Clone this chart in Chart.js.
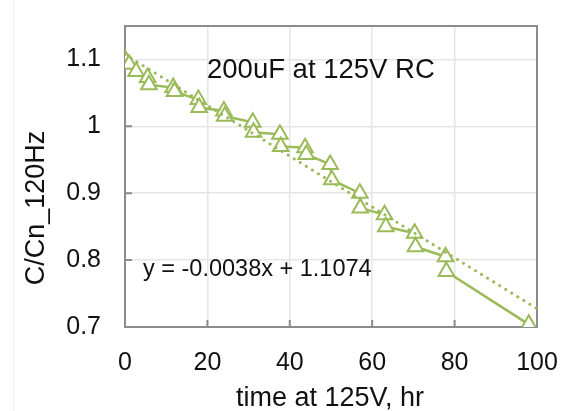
<!DOCTYPE html>
<html>
<head>
<meta charset="utf-8">
<script src="https://cdn.jsdelivr.net/npm/chart.js@4/dist/chart.umd.min.js"></script>
<style>
  html, body { margin: 0; padding: 0; background: #fff; }
  #wrap { width: 567px; height: 411px; }
</style>
</head>
<body>
<div id="wrap"><canvas id="chart" width="567" height="411"></canvas></div>
<script>
// measured capacitance ratio vs hours at 125V (pairs per check point)
const hours = [0, 1, 2.7, 5.5, 5.8, 11.7, 12, 17.8, 18, 24, 24.2, 31, 31.2, 37.6, 37.8,
  43.7, 44, 49.8, 50.2, 57, 57.1, 63, 63.3, 70.3, 70.5, 77.8, 78, 98];
const capRatio = [1.100, 1.093, 1.082, 1.073, 1.062, 1.058, 1.052, 1.040, 1.028, 1.023, 1.015,
  1.006, 0.991, 0.988, 0.970, 0.968, 0.958, 0.943, 0.920, 0.900, 0.878, 0.868, 0.850,
  0.840, 0.820, 0.805, 0.783, 0.704];

// linear trendline endpoints (from the printed equation)
const trendHours = [0, 100];
const trendValues = [1.1074, 0.7274];

const xTicks = [0, 20, 40, 60, 80, 100];
const yTicks = [0.7, 0.8, 0.9, 1.0, 1.1];

const chartNote = "200uF at 125V RC";
const trendNote = "y = -0.0038x + 1.1074";
const xTitle = "time at 125V, hr";
const yTitle = "C/Cn_120Hz";

const green = "#9bbb59";
const fontFamily = "'Liberation Sans', Arial, sans-serif";

function toPoints(xs, ys) {
  return xs.map((x, i) => ({ x: x, y: ys[i] }));
}

const decor = {
  id: "decor",
  beforeDraw(chart) {
    const ctx = chart.ctx;
    ctx.save();
    ctx.strokeStyle = "#efefef";
    ctx.lineWidth = 1;
    ctx.beginPath();
    ctx.moveTo(13.5, 0);
    ctx.lineTo(13.5, 411);
    ctx.stroke();
    ctx.restore();
  },
  beforeDatasetsDraw(chart) {
    const { ctx, chartArea: a, scales } = chart;
    ctx.save();
    ctx.strokeStyle = "#8c8c8c";
    ctx.lineWidth = 2;
    ctx.beginPath();
    yTicks.forEach(v => {
      const y = scales.y.getPixelForValue(v);
      ctx.moveTo(a.left, y);
      ctx.lineTo(a.left + 7, y);
    });
    xTicks.forEach(v => {
      const x = scales.x.getPixelForValue(v);
      ctx.moveTo(x, a.bottom);
      ctx.lineTo(x, a.bottom - 7);
    });
    ctx.stroke();
    ctx.strokeRect(a.left, a.top, a.right - a.left, a.bottom - a.top);
    ctx.restore();
  },
  afterDraw(chart) {
    const ctx = chart.ctx;
    ctx.save();
    ctx.fillStyle = "#111";
    ctx.textBaseline = "alphabetic";

    ctx.font = "27.5px " + fontFamily;
    ctx.textAlign = "left";
    ctx.fillText(chartNote, 207, 78);

    ctx.font = "23.5px " + fontFamily;
    ctx.fillText(trendNote, 143, 276);

    ctx.font = "27px " + fontFamily;
    ctx.textAlign = "center";
    ctx.fillText(xTitle, 330, 406);

    ctx.translate(44, 208);
    ctx.rotate(-Math.PI / 2);
    ctx.fillText(yTitle, 0, 0);
    ctx.restore();
  }
};

new Chart(document.getElementById("chart"), {
  type: "scatter",
  data: {
    datasets: [
      {
        label: "trend",
        data: toPoints(trendHours, trendValues),
        showLine: true,
        borderColor: green,
        borderWidth: 3,
        borderDash: [0.1, 7],
        borderCapStyle: "round",
        pointRadius: 0,
        order: 0,
      },
      {
        label: "C/Cn",
        data: toPoints(hours, capRatio),
        showLine: true,
        borderColor: green,
        borderWidth: 2.5,
        pointStyle: "triangle",
        pointRadius: 9,
        pointBorderWidth: 2,
        pointBorderColor: green,
        pointBackgroundColor: "#fff",
        order: 1,
      }
    ]
  },
  options: {
    responsive: false,
    animation: false,
    layout: { autoPadding: false, padding: { top: 26, right: 30, left: 0, bottom: 0 } },
    plugins: {
      legend: { display: false },
      tooltip: { enabled: false },
    },
    scales: {
      x: {
        type: "linear",
        min: 0,
        max: 100,
        afterBuildTicks: s => { s.ticks = xTicks.map(v => ({ value: v })); },
        afterFit: s => { s.height = 84; s.paddingLeft = 0; s.paddingRight = 0; },
        grid: { color: "#e6e6e6", lineWidth: 1.5, drawTicks: false },
        border: { display: false },
        ticks: {
          padding: 21,
          color: "#111",
          font: { size: 25, family: fontFamily },
        },
      },
      y: {
        type: "linear",
        min: 0.7,
        max: 1.15,
        afterBuildTicks: s => { s.ticks = yTicks.map(v => ({ value: v })); },
        afterFit: s => { s.width = 125; s.paddingTop = 0; s.paddingBottom = 0; },
        grid: { color: "#e6e6e6", lineWidth: 1.5, drawTicks: false },
        border: { display: false },
        ticks: {
          padding: 24,
          color: "#111",
          font: { size: 25, family: fontFamily },
          callback: v => String(Math.round(v * 10) / 10),
        },
      }
    }
  },
  plugins: [decor]
});
</script>
</body>
</html>
